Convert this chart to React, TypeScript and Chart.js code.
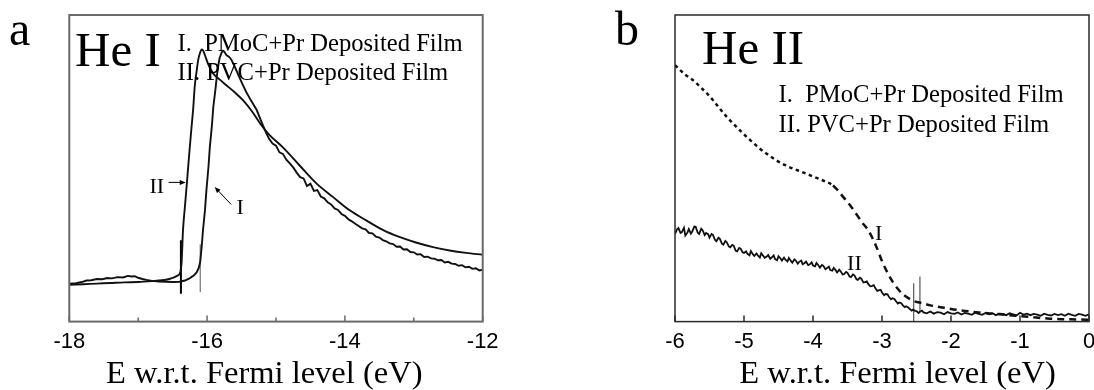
import React, { useEffect, useRef } from 'react';
import { Chart, registerables } from 'chart.js';

Chart.register(...registerables);

type P = [number, number];

const SERIF = "'Liberation Serif', 'Times New Roman', serif";
const SANS = "'Liberation Sans', Arial, sans-serif";

// ---------- Panel a : He I ----------
const heI_xRange: P = [-18, -12];
const heI_curveI: P[] = [
  [-18.0, 12.4], [-17.9, 12.5], [-17.82, 12.9], [-17.75, 13.4], [-17.68, 13.5], [-17.6, 13.9],
  [-17.52, 13.8], [-17.45, 14.2], [-17.38, 14.1], [-17.3, 14.5], [-17.22, 14.4], [-17.15, 14.9],
  [-17.1, 14.7], [-17.05, 14.8], [-17.0, 14.3], [-16.94, 13.9], [-16.88, 13.6], [-16.8, 13.3],
  [-16.7, 13.1], [-16.6, 13.0], [-16.5, 12.9], [-16.4, 13.0], [-16.32, 13.4], [-16.25, 14.2],
  [-16.19, 15.1], [-16.15, 16.1], [-16.12, 17.6], [-16.1, 19.5], [-16.08, 24.0], [-16.06, 29.7],
  [-16.03, 36.5], [-16.01, 42.8], [-15.98, 50.5], [-15.96, 57.0], [-15.93, 64.0], [-15.91, 70.0],
  [-15.88, 75.5], [-15.86, 79.8], [-15.84, 83.2], [-15.82, 85.8], [-15.79, 87.7], [-15.77, 88.3],
  [-15.75, 88.0], [-15.72, 86.9], [-15.68, 86.3], [-15.65, 85.5], [-15.6, 83.2], [-15.55, 80.6],
  [-15.49, 77.6], [-15.43, 74.8], [-15.36, 72.0], [-15.28, 69.0], [-15.2, 64.6], [-15.14, 61.4],
  [-15.1, 59.6], [-15.05, 58.1], [-15.0, 57.4], [-14.95, 55.2], [-14.9, 54.7], [-14.85, 52.8],
  [-14.8, 51.6], [-14.75, 50.3], [-14.7, 48.6], [-14.65, 47.1], [-14.6, 46.7], [-14.55, 44.2],
  [-14.5, 45.0], [-14.45, 42.6], [-14.4, 42.9], [-14.35, 40.8], [-14.3, 40.2], [-14.25, 38.9],
  [-14.2, 38.2], [-14.15, 36.9], [-14.1, 36.4], [-14.05, 35.1], [-14.0, 34.5], [-13.95, 33.4],
  [-13.9, 32.7], [-13.85, 31.9], [-13.8, 31.2], [-13.75, 30.4], [-13.7, 30.1], [-13.65, 28.9],
  [-13.6, 28.8], [-13.55, 27.7], [-13.5, 27.4], [-13.45, 26.6], [-13.4, 26.2], [-13.35, 25.5],
  [-13.3, 25.3], [-13.25, 24.4], [-13.2, 24.5], [-13.15, 23.5], [-13.1, 23.6], [-13.05, 22.7],
  [-13.0, 22.6], [-12.95, 21.9], [-12.9, 22.0], [-12.85, 21.1], [-12.8, 21.2], [-12.75, 20.6],
  [-12.7, 20.5], [-12.65, 20.0], [-12.6, 20.1], [-12.55, 19.3], [-12.5, 19.5], [-12.45, 18.9],
  [-12.4, 18.8], [-12.35, 18.2], [-12.3, 18.4], [-12.25, 17.7], [-12.2, 17.9], [-12.15, 17.2],
  [-12.1, 17.4], [-12.05, 16.7], [-12.0, 16.9],
];
const heI_curveII: P[] = [
  [-18.0, 12.0], [-17.8, 12.2], [-17.6, 12.4], [-17.4, 12.6], [-17.2, 12.8], [-17.0, 12.9],
  [-16.8, 13.2], [-16.65, 13.5], [-16.55, 13.9], [-16.48, 14.4], [-16.43, 15.0], [-16.39, 16.0],
  [-16.37, 19.5], [-16.35, 29.7], [-16.32, 38.0], [-16.29, 46.1], [-16.26, 54.5], [-16.23, 62.4],
  [-16.2, 70.0], [-16.18, 76.6], [-16.15, 82.0], [-16.13, 85.3], [-16.1, 87.8], [-16.08, 88.8],
  [-16.06, 88.5], [-16.03, 86.8], [-16.0, 84.9], [-15.96, 82.8], [-15.91, 80.9], [-15.82, 79.0],
  [-15.72, 77.1], [-15.6, 74.8], [-15.48, 72.2], [-15.35, 68.6], [-15.22, 64.3], [-15.1, 61.0],
  [-14.9, 56.8], [-14.66, 51.0], [-14.41, 45.0], [-14.17, 40.6], [-13.93, 36.3], [-13.69, 33.0],
  [-13.45, 29.9], [-13.21, 27.6], [-12.97, 25.8], [-12.72, 24.3], [-12.48, 23.2], [-12.24, 22.4],
  [-12.0, 21.8],
];
const heI_markerII: P[] = [[-16.38, 9.1], [-16.38, 26.5]];
const heI_markerI: P[] = [[-16.1, 9.6], [-16.1, 25.2]];

// ---------- Panel b : He II ----------
const heII_xRange: P = [-6, 0];
const heII_curveI: P[] = [
  [-6.0, 83.6], [-5.85, 80.5], [-5.73, 78.6], [-5.6, 75.8], [-5.49, 73.3], [-5.37, 70.0],
  [-5.25, 66.8], [-5.13, 64.0], [-5.01, 61.3], [-4.89, 58.8], [-4.77, 56.4], [-4.65, 54.4],
  [-4.53, 52.6], [-4.41, 51.1], [-4.29, 49.9], [-4.16, 48.8], [-4.04, 47.7], [-3.92, 46.6],
  [-3.8, 45.5], [-3.71, 44.4], [-3.64, 42.8], [-3.56, 40.6], [-3.46, 37.9], [-3.37, 35.0],
  [-3.29, 32.4], [-3.2, 29.8], [-3.1, 25.4], [-2.99, 19.2], [-2.91, 15.5], [-2.84, 12.8],
  [-2.76, 10.4], [-2.68, 8.6], [-2.6, 7.4], [-2.54, 6.7], [-2.47, 6.3], [-2.4, 5.9],
  [-2.3, 5.3], [-2.15, 4.7], [-2.0, 4.1], [-1.8, 3.5], [-1.6, 3.0], [-1.4, 2.6],
  [-1.2, 2.2], [-1.0, 1.8], [-0.8, 1.4], [-0.6, 1.0], [-0.4, 0.8], [-0.2, 0.7], [0.0, 0.6],
];
const heII_curveII: P[] = [
  [-6.0, 28.6], [-5.97, 30.1], [-5.95, 30.5], [-5.92, 28.9], [-5.9, 29.2], [-5.87, 30.6],
  [-5.85, 28.1], [-5.82, 29.0], [-5.8, 30.2], [-5.77, 28.7], [-5.75, 29.4], [-5.72, 31.0],
  [-5.7, 30.9], [-5.67, 29.0], [-5.65, 28.6], [-5.62, 30.3], [-5.6, 29.8], [-5.57, 28.2],
  [-5.55, 28.9], [-5.52, 28.5], [-5.5, 27.4], [-5.47, 28.6], [-5.45, 28.3], [-5.42, 26.6],
  [-5.4, 26.2], [-5.37, 27.4], [-5.35, 27.0], [-5.32, 25.4], [-5.3, 25.1], [-5.27, 26.3],
  [-5.25, 25.9], [-5.22, 24.5], [-5.2, 24.2], [-5.17, 25.0], [-5.15, 24.8], [-5.12, 23.1],
  [-5.1, 22.9], [-5.07, 24.0], [-5.05, 23.8], [-5.02, 22.6], [-5.0, 22.4], [-4.97, 22.9],
  [-4.95, 22.1], [-4.92, 21.6], [-4.9, 23.0], [-4.87, 21.9], [-4.85, 21.4], [-4.82, 22.2],
  [-4.8, 21.6], [-4.77, 20.9], [-4.75, 22.3], [-4.72, 21.4], [-4.7, 20.8], [-4.67, 21.2],
  [-4.65, 21.7], [-4.62, 20.5], [-4.6, 20.9], [-4.57, 21.6], [-4.55, 20.4], [-4.52, 20.0],
  [-4.5, 21.3], [-4.47, 20.6], [-4.45, 19.9], [-4.42, 20.9], [-4.4, 20.2], [-4.37, 19.6],
  [-4.35, 20.8], [-4.32, 19.8], [-4.3, 19.2], [-4.27, 20.3], [-4.25, 19.9], [-4.22, 18.9],
  [-4.2, 19.5], [-4.17, 19.9], [-4.15, 18.7], [-4.12, 19.1], [-4.1, 19.6], [-4.07, 18.4],
  [-4.05, 18.6], [-4.02, 19.3], [-4.0, 18.3], [-3.97, 18.0], [-3.95, 19.1], [-3.92, 18.3],
  [-3.9, 17.6], [-3.87, 18.5], [-3.85, 18.2], [-3.82, 17.1], [-3.8, 17.4], [-3.77, 17.9],
  [-3.75, 16.8], [-3.72, 16.6], [-3.7, 17.5], [-3.67, 16.7], [-3.65, 16.0], [-3.62, 16.9],
  [-3.6, 16.4], [-3.57, 15.4], [-3.55, 15.5], [-3.52, 16.2], [-3.5, 15.9], [-3.47, 14.7],
  [-3.45, 14.5], [-3.42, 15.4], [-3.4, 15.1], [-3.37, 13.8], [-3.35, 13.6], [-3.32, 14.3],
  [-3.3, 14.0], [-3.27, 12.8], [-3.25, 12.9], [-3.22, 13.1], [-3.2, 12.3], [-3.17, 11.5],
  [-3.15, 11.6], [-3.12, 11.9], [-3.1, 11.0], [-3.07, 10.0], [-3.05, 10.2], [-3.02, 10.4],
  [-3.0, 9.5], [-2.97, 8.6], [-2.95, 9.0], [-2.92, 8.9], [-2.9, 8.1], [-2.87, 7.3],
  [-2.85, 7.6], [-2.82, 7.4], [-2.8, 6.7], [-2.77, 5.9], [-2.75, 6.2], [-2.72, 6.0],
  [-2.7, 5.4], [-2.67, 4.7], [-2.65, 5.0], [-2.62, 4.6], [-2.6, 4.2], [-2.57, 3.6],
  [-2.55, 3.9], [-2.52, 3.5], [-2.5, 3.4], [-2.47, 2.8], [-2.45, 3.2], [-2.42, 3.6],
  [-2.4, 3.0], [-2.35, 2.7], [-2.3, 3.3], [-2.25, 2.6], [-2.2, 3.1], [-2.15, 2.9],
  [-2.1, 2.4], [-2.05, 3.1], [-2.0, 2.7], [-1.95, 2.5], [-1.9, 3.0], [-1.85, 2.3],
  [-1.8, 2.8], [-1.75, 2.6], [-1.7, 2.2], [-1.65, 2.9], [-1.6, 2.5], [-1.55, 2.2],
  [-1.5, 2.8], [-1.45, 2.4], [-1.4, 2.7], [-1.35, 2.1], [-1.3, 2.6], [-1.25, 2.5],
  [-1.2, 2.1], [-1.15, 2.7], [-1.1, 2.4], [-1.05, 2.0], [-1.0, 2.9], [-0.95, 2.3],
  [-0.9, 2.6], [-0.85, 2.1], [-0.8, 2.5], [-0.75, 2.3], [-0.7, 1.9], [-0.65, 2.6],
  [-0.6, 2.2], [-0.55, 2.0], [-0.5, 2.5], [-0.45, 2.1], [-0.4, 2.4], [-0.35, 1.9],
  [-0.3, 2.6], [-0.25, 2.2], [-0.2, 1.9], [-0.15, 2.5], [-0.1, 2.3], [-0.05, 1.9], [0.0, 2.4],
];
const heII_markerA: P[] = [[-2.54, 0.1], [-2.54, 12.5]];
const heII_markerB: P[] = [[-2.45, 3.0], [-2.45, 14.7]];

// ---------- Text ----------
const legendLines = ['I.  PMoC+Pr Deposited Film', 'II. PVC+Pr Deposited Film'];
const xAxisTitle = 'E w.r.t. Fermi level (eV)';

type Note = { text: string; x: number; y: number };
type Arrow = { from: P; to: P };

type PanelCfg = {
  left: number;
  width: number;
  height: number;
  xRange: P;
  labelEvery: number;
  padding: { left: number; right: number; top: number; bottom: number };
  datasets: any[];
  frameColor: string;
  frameWidth: number;
  letter: Note;
  title: Note;
  legend: { x: number; y0: number; dy: number; size: number };
  axisTitle: { x: number; y: number };
  notes: Note[];
  arrows: Arrow[];
};

const toXY = (arr: P[]) => arr.map(([x, y]) => ({ x, y }));

function decor(c: PanelCfg) {
  return {
    id: 'decor',
    afterDatasetsDraw(chart: any) {
      const { ctx, chartArea: a } = chart;
      const xs = chart.scales.x;
      const ys = chart.scales.y;
      ctx.save();
      ctx.strokeStyle = c.frameColor;
      ctx.lineWidth = c.frameWidth;
      ctx.strokeRect(a.left, a.top, a.right - a.left, a.bottom - a.top);
      ctx.lineWidth = 1.5;
      ctx.beginPath();
      xs.ticks.forEach((t: any) => {
        const px = xs.getPixelForValue(t.value);
        const len = Math.round(t.value) % c.labelEvery === 0 ? 6 : 4;
        ctx.moveTo(px, a.bottom);
        ctx.lineTo(px, a.bottom - len);
      });
      ctx.stroke();

      ctx.fillStyle = '#000';
      ctx.textAlign = 'left';
      ctx.textBaseline = 'alphabetic';
      ctx.font = `48px ${SERIF}`;
      ctx.fillText(c.letter.text, c.letter.x, c.letter.y);
      ctx.font = `49px ${SERIF}`;
      ctx.fillText(c.title.text, c.title.x, c.title.y);
      ctx.font = `${c.legend.size}px ${SERIF}`;
      legendLines.forEach((s, i) => ctx.fillText(s, c.legend.x, c.legend.y0 + i * c.legend.dy));
      ctx.font = `32.5px ${SERIF}`;
      ctx.fillText(xAxisTitle, c.axisTitle.x, c.axisTitle.y);

      ctx.font = `22px ${SERIF}`;
      ctx.textAlign = 'center';
      ctx.textBaseline = 'middle';
      c.notes.forEach((n) => ctx.fillText(n.text, xs.getPixelForValue(n.x), ys.getPixelForValue(n.y)));

      ctx.strokeStyle = '#000';
      ctx.lineWidth = 1;
      c.arrows.forEach((ar) => {
        const x0 = xs.getPixelForValue(ar.from[0]);
        const y0 = ys.getPixelForValue(ar.from[1]);
        const x1 = xs.getPixelForValue(ar.to[0]);
        const y1 = ys.getPixelForValue(ar.to[1]);
        const ang = Math.atan2(y1 - y0, x1 - x0);
        const hl = 6;
        const hw = 2.5;
        ctx.beginPath();
        ctx.moveTo(x0, y0);
        ctx.lineTo(x1 - Math.cos(ang) * hl * 0.8, y1 - Math.sin(ang) * hl * 0.8);
        ctx.stroke();
        ctx.beginPath();
        ctx.moveTo(x1, y1);
        ctx.lineTo(
          x1 - Math.cos(ang) * hl - Math.sin(ang) * hw,
          y1 - Math.sin(ang) * hl + Math.cos(ang) * hw
        );
        ctx.lineTo(
          x1 - Math.cos(ang) * hl + Math.sin(ang) * hw,
          y1 - Math.sin(ang) * hl - Math.cos(ang) * hw
        );
        ctx.closePath();
        ctx.fill();
      });
      ctx.restore();
    },
  };
}

function Panel({ cfg }: { cfg: PanelCfg }) {
  const ref = useRef<HTMLCanvasElement>(null);
  useEffect(() => {
    if (!ref.current) return;
    const c = cfg;
    const chart = new Chart(ref.current, {
      type: 'line',
      data: { datasets: c.datasets },
      options: {
        responsive: false,
        maintainAspectRatio: false,
        animation: false,
        layout: { padding: c.padding },
        plugins: { legend: { display: false }, tooltip: { enabled: false } },
        elements: { point: { radius: 0 } },
        scales: {
          x: {
            type: 'linear',
            min: c.xRange[0],
            max: c.xRange[1],
            grid: { display: false, drawTicks: false },
            border: { display: false },
            ticks: {
              stepSize: 1,
              autoSkip: false,
              maxRotation: 0,
              padding: 7.4,
              color: '#000',
              font: { family: SANS, size: 22 },
              callback: (v: any) =>
                Math.round(Number(v)) % c.labelEvery === 0 ? String(Math.round(Number(v))) : '',
            },
          },
          y: { type: 'linear', min: 0, max: 100, display: false },
        },
      } as any,
      plugins: [decor(c)],
    });
    return () => chart.destroy();
  }, [cfg]);
  return (
    <canvas
      ref={ref}
      width={cfg.width}
      height={cfg.height}
      style={{ position: 'absolute', left: cfg.left, top: 0, width: cfg.width, height: cfg.height }}
    />
  );
}

const panelA: PanelCfg = {
  left: 0,
  width: 547,
  height: 390,
  xRange: heI_xRange,
  labelEvery: 2,
  padding: { left: 69.3, right: 64.3, top: 15, bottom: 27.2 },
  frameColor: '#6a6a6a',
  frameWidth: 2,
  datasets: [
    { data: toXY(heI_curveI), borderColor: '#111', borderWidth: 1.9, tension: 0, pointRadius: 0 },
    { data: toXY(heI_curveII), borderColor: '#111', borderWidth: 1.9, cubicInterpolationMode: 'monotone', pointRadius: 0 },
    { data: toXY(heI_markerII), borderColor: '#000', borderWidth: 2, tension: 0, pointRadius: 0 },
    { data: toXY(heI_markerI), borderColor: '#555', borderWidth: 1, tension: 0, pointRadius: 0 },
  ],
  letter: { text: 'a', x: 9, y: 45 },
  title: { text: 'He I', x: 75, y: 65.5 },
  legend: { x: 177.5, y0: 51, dy: 28.5, size: 24.6 },
  axisTitle: { x: 106, y: 383 },
  notes: [
    { text: 'II', x: -16.73, y: 43.9 },
    { text: 'I', x: -15.52, y: 36.9 },
  ],
  arrows: [
    { from: [-16.56, 45.4], to: [-16.31, 45.4] },
    { from: [-15.65, 38.2], to: [-15.89, 43.9] },
  ],
};

const panelB: PanelCfg = {
  left: 547,
  width: 560,
  height: 390,
  xRange: heII_xRange,
  labelEvery: 1,
  padding: { left: 128, right: 18, top: 15, bottom: 27.2 },
  frameColor: '#2a2a2a',
  frameWidth: 1.5,
  datasets: [
    {
      data: toXY(heII_curveI),
      borderColor: '#111',
      borderWidth: 2.5,
      cubicInterpolationMode: 'monotone',
      pointRadius: 0,
      segment: { borderDash: (ctx: any) => (ctx.p1.parsed.x <= -3.7 ? [3.5, 3.5] : [7, 5]) },
    },
    { data: toXY(heII_curveII), borderColor: '#111', borderWidth: 1.8, tension: 0, pointRadius: 0 },
    { data: toXY(heII_markerA), borderColor: '#333', borderWidth: 1, tension: 0, pointRadius: 0 },
    { data: toXY(heII_markerB), borderColor: '#333', borderWidth: 1, tension: 0, pointRadius: 0 },
  ],
  letter: { text: 'b', x: 68, y: 45 },
  title: { text: 'He II', x: 155, y: 63.5 },
  legend: { x: 231.5, y0: 101.5, dy: 30, size: 24.6 },
  axisTitle: { x: 192.3, y: 383 },
  notes: [
    { text: 'I', x: -3.05, y: 28.4 },
    { text: 'II', x: -3.4, y: 18.6 },
  ],
  arrows: [],
};

export default function App() {
  return (
    <div
      style={{
        position: 'fixed',
        left: 0,
        top: 0,
        width: 1094,
        height: 390,
        overflow: 'hidden',
        background: '#fff',
      }}
    >
      <Panel cfg={panelA} />
      <Panel cfg={panelB} />
    </div>
  );
}
